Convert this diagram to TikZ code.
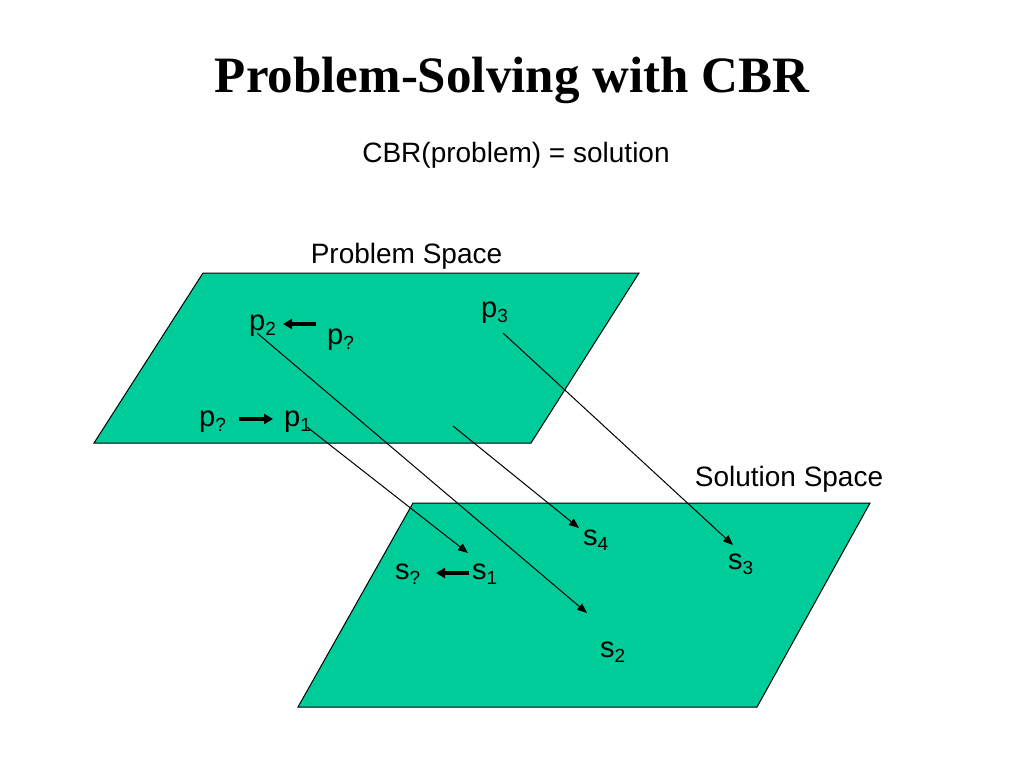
\documentclass[tikz,border=0pt]{standalone}
\usepackage{fontspec}
\setmainfont{Liberation Serif}
\newfontfamily\arialf{Liberation Sans}
\usetikzlibrary{arrows.meta}
\definecolor{planegreen}{HTML}{00CC99}
\newcommand\lbsub[1]{\raisebox{-5pt}{\fontsize{19}{19}\selectfont #1}}
\tikzset{
  plane/.style={fill=planegreen, draw=black, line width=1pt},
  lbl/.style={anchor=base west, inner sep=0pt, font=\arialf\fontsize{29}{29}\selectfont},
  caption/.style={anchor=base, inner sep=0pt, font=\arialf\fontsize{28}{28}\selectfont},
  maplink/.style={draw=black, line width=1pt, -{Triangle[length=10pt,width=8pt]}},
  moveto/.style={draw=black, line width=3.5pt, -{Triangle[length=9pt,width=10pt]}}
}
\begin{document}
\begin{tikzpicture}[x=1pt,y=-1pt]
\useasboundingbox (0,0) rectangle (1024,768);
% title
\node[anchor=base, inner sep=0pt, font=\fontsize{51}{51}\selectfont\bfseries] (title) at (512,92) {Problem-Solving with CBR};
\node[caption] (sub) at (516,162) {CBR(problem) = solution};
% planes
\draw[plane] (203,273) -- (639,273) -- (531,443) -- (94,443) -- cycle;
\draw[plane] (413,503) -- (870,503) -- (757,707) -- (298,707) -- cycle;
\node[caption] (ps) at (406.5,263) {Problem Space};
\node[caption] (ss) at (789,486) {Solution Space};
% labels
\node[lbl] (p2) at (249,330) {p\lbsub{2}};
\node[lbl] (pq1) at (327,344) {p\lbsub{?}};
\node[lbl] (pq2) at (199,426) {p\lbsub{?}};
\node[lbl] (p1) at (284,426) {p\lbsub{1}};
\node[lbl] (p3) at (481,317) {p\lbsub{3}};
\node[lbl] (s4) at (583,545) {s\lbsub{4}};
\node[lbl] (s3) at (728,569) {s\lbsub{3}};
\node[lbl] (s1) at (472,579) {s\lbsub{1}};
\node[lbl] (sq) at (395,579) {s\lbsub{?}};
\node[lbl] (s2) at (600,657) {s\lbsub{2}};
% connector end points
\coordinate (p1o) at (307,427);
\coordinate (s1i) at (468,553);
\coordinate (p2o) at (257,333);
\coordinate (s2i) at (587,613);
\coordinate (p4o) at (453,426);
\coordinate (s4i) at (579,528);
\coordinate (p3o) at (503,333);
\coordinate (s3i) at (733,545);
\coordinate (m1a) at (316,324);
\coordinate (m1b) at (283,324);
\coordinate (m2a) at (239,419);
\coordinate (m2b) at (273,419);
\coordinate (m3a) at (469,573);
\coordinate (m3b) at (436,573);
% mapping arrows
\draw[maplink] (p1o) -- (s1i);
\draw[maplink] (p2o) -- (s2i);
\draw[maplink] (p4o) -- (s4i);
\draw[maplink] (p3o) -- (s3i);
% thick arrows
\draw[moveto] (m1a) -- (m1b);
\draw[moveto] (m2a) -- (m2b);
\draw[moveto] (m3a) -- (m3b);
\end{tikzpicture}
\end{document}
